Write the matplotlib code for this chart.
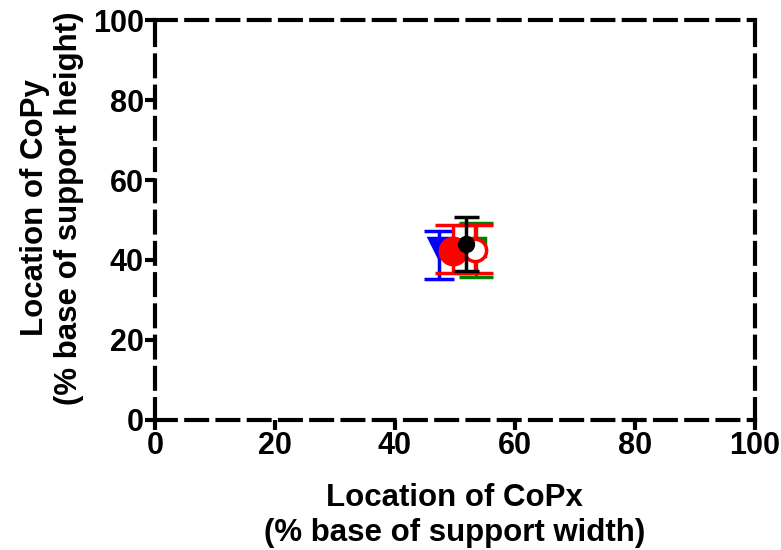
import matplotlib.pyplot as plt
import numpy as np

plt.rcParams['font.family'] = ['Liberation Sans', 'DejaVu Sans']
plt.rcParams['font.weight'] = 'bold'

# group means and SD (% base of support)
blue_x, blue_y, blue_lo, blue_hi = 47.3, 43.0, 35.3, 47.2
green_x, green_y, green_lo, green_hi = 53.5, 43.2, 35.8, 49.2
red_x, red_y, red_lo, red_hi = 49.7, 42.2, 36.8, 48.8
redo_x, redo_y = 53.3, 42.6
black_x, black_y, black_lo, black_hi = 51.8, 44.0, 37.3, 50.8

fig = plt.figure(figsize=(7.81, 5.5), dpi=100)
ax = fig.add_axes([0.1985, 0.2364, 0.768, 0.7272])

def eb(x, y, lo, hi, color, fmt, ms, mfc, capsize, z):
    ax.errorbar([x], [y], yerr=[[y - lo], [hi - y]], fmt=fmt, color=color,
                ms=ms, mfc=mfc, mec=color, mew=2.5, elinewidth=2.5,
                capsize=capsize, capthick=2.5, zorder=z)

eb(green_x, green_y, green_lo, green_hi, 'green', 's', 13, 'green', 12, 2)
eb(blue_x, blue_y, blue_lo, blue_hi, 'blue', 'v', 14, 'blue', 11, 3)
eb(redo_x, redo_y, red_lo, red_hi, 'red', 'o', 16, 'white', 13, 4)
eb(red_x, red_y, red_lo, red_hi, 'red', 'o', 19, 'red', 13, 5)
eb(black_x, black_y, black_lo, black_hi, 'black', 'o', 10, 'black', 9, 6)

ax.set_xlim(0, 100)
ax.set_ylim(0, 100)
ax.set_xticks([0, 20, 40, 60, 80, 100])
ax.set_yticks([0, 20, 40, 60, 80, 100])
for s in ax.spines.values():
    s.set_linestyle((0, (5, 2.5)))
    s.set_linewidth(3)
ax.tick_params(direction='out', length=7, width=3, labelsize=22, pad=1)

ax.set_xlabel('Location of CoPx\n(% base of support width)', fontsize=22.5, fontweight='bold', labelpad=16)
ax.set_ylabel('Location of CoPy\n(% base of support height)', fontsize=22.5, fontweight='bold')
ax.yaxis.set_label_coords(-0.118, 0.53)

fig.savefig('out.png', dpi=100)
